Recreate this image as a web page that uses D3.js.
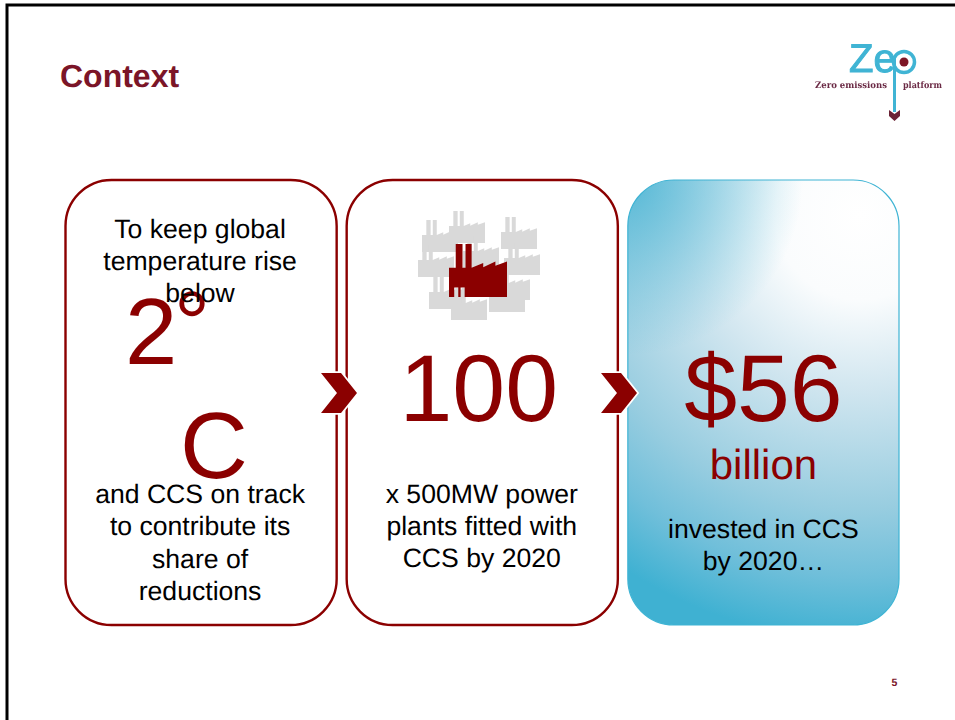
<!DOCTYPE html>
<html lang="en">
	<head>
		<meta charset="utf-8">
		<title>Context</title>
		<script type="text/javascript" src="https://d3js.org/d3.v7.min.js"></script>
		<style type="text/css">
			html, body { margin:0; padding:0; background:#fff; overflow:hidden; }
			svg { display:block; }
			text { font-family:"Liberation Sans", Arial, sans-serif; text-rendering:geometricPrecision; }
		</style>
	</head>
	<body>
		<svg id="slide" width="955" height="720"></svg>
		<script type="text/javascript">
			// values and text
			var cards = ["target", "plants", "money"];
			var topLines = ["To keep global", "temperature rise", "below"];
			var firstLines = ["and CCS on track", "to contribute its", "share of", "reductions"];
			var secondLines = ["x 500MW power", "plants fitted with", "CCS by 2020"];
			var thirdLines = ["invested in CCS", "by 2020…"];
			var plantCount = "100";
			var investment = "$56";
			var investmentUnit = "billion";
			var grayFactories = ["a", "b", "c", "d", "e", "f", "g", "h", "i", "j"];

			var w = 955, h = 720;
			var red = "#8b0000", wine = "#7b1528", teal = "#3fb4d4";

			var svg = d3.select("#slide");
			var defs = svg.append("defs");

			var xCard = d3.scaleBand().domain(cards).range([65.5, 899]).paddingInner(0.0356);
			var cardTop = 180, cardH = 445, cardR = 46;

			// frame, only left and top are in the picture
			svg.append("path")
				.attr("d", "M7,720V5H955")
				.attr("fill", "none")
				.attr("stroke", "#000")
				.attr("stroke-width", 3);

			svg.append("text")
				.text("Context")
				.attr("x", 60)
				.attr("y", 87)
				.attr("font-size", 32)
				.attr("font-weight", "bold")
				.attr("fill", wine);

			svg.append("text")
				.text("5")
				.attr("x", 891.5)
				.attr("y", 686)
				.attr("font-size", 10.5)
				.attr("font-weight", "bold")
				.attr("fill", wine);

			/////////  CARDS  ////////////////////////////////////////////////////////

			var glow = defs.append("radialGradient")
				.attr("id", "glow")
				.attr("gradientUnits", "userSpaceOnUse")
				.attr("cx", 860).attr("cy", 215).attr("r", 425);
			[[0, "#ffffff"], [0.2, "#fafcfd"], [0.42, "#cfe5ef"], [0.69, "#98cde0"], [0.85, "#70bfda"], [1, "#3fb1d2"]]
				.forEach(function(s){
					glow.append("stop").attr("offset", s[0]).attr("stop-color", s[1]);
				});

			var corner = defs.append("radialGradient")
				.attr("id", "corner")
				.attr("gradientUnits", "userSpaceOnUse")
				.attr("cx", 628).attr("cy", 180).attr("r", 175);
			corner.append("stop").attr("offset", 0).attr("stop-color", "#3fb1d2").attr("stop-opacity", 0.8);
			corner.append("stop").attr("offset", 1).attr("stop-color", "#3fb1d2").attr("stop-opacity", 0);

			svg.selectAll("rect.card")
				.data(cards)
				.enter()
				.append("rect")
				.attr("class", "card")
				.attr("x", d => xCard(d))
				.attr("y", cardTop)
				.attr("width", xCard.bandwidth())
				.attr("height", cardH)
				.attr("rx", cardR)
				.attr("fill", d => d == "money" ? "url(#glow)" : "#fff")
				.attr("stroke", d => d == "money" ? teal : red)
				.attr("stroke-width", d => d == "money" ? 1.2 : 2.4);

			svg.append("rect")
				.attr("x", xCard("money"))
				.attr("y", cardTop)
				.attr("width", xCard.bandwidth())
				.attr("height", cardH)
				.attr("rx", cardR)
				.attr("fill", "url(#corner)");

			/////////  FACTORIES  ////////////////////////////////////////////////////////

			var grayPath = "M0,1V.47H.12V0H.24V.47H.3V0H.41V.47L.59,.38V.46L.8,.35V.43L1,.35V1Z";
			var redPath = "M0,1V.45H.116V0H.233V.45H.285V0H.39V.45L.59,.36V.44L.8,.33V.41L1,.33V1H.27V.82H.2V1H.16V.82H.09V1Z";
			var grayPos = {a:[422,220], b:[449,211], c:[501,217], d:[418,245], e:[504,243], f:[429,277], g:[451,288], h:[489,280], i:[494,268], j:[463,236]};

			svg.selectAll("path.gray")
				.data(grayFactories)
				.enter()
				.append("path")
				.attr("class", "gray")
				.attr("d", grayPath)
				.attr("transform", d => "translate(" + grayPos[d][0] + "," + grayPos[d][1] + ") scale(36,32)")
				.attr("fill", "#d9d9d9");

			svg.append("path")
				.attr("d", redPath)
				.attr("transform", "translate(449,244) scale(58,53)")
				.attr("fill", red);

			/////////  TEXT  ////////////////////////////////////////////////////////

			var bigText = function(t, x, y, anchor, size){
				svg.append("text")
					.text(t)
					.attr("x", x)
					.attr("y", y)
					.attr("text-anchor", anchor)
					.attr("font-size", size)
					.attr("fill", red);
			};

			var cardMid = d => xCard(d) + xCard.bandwidth() / 2;

			bigText("2", 125, 364, "start", 94);
			bigText("°", 174, 354, "start", 90);
			bigText("C", 180, 478, "start", 94);
			bigText(plantCount, cardMid("plants") - 3.5, 421, "middle", 95);
			bigText(investment, cardMid("money"), 421, "middle", 95);
			bigText(investmentUnit, cardMid("money"), 479, "middle", 42);

			// the black lines sit on top of the big red figures
			var addLines = function(lines, cx, y0, dy){
				svg.append("g").selectAll("text")
					.data(lines)
					.enter()
					.append("text")
					.text(d => d)
					.attr("x", cx)
					.attr("y", (d, i) => y0 + i * dy)
					.attr("text-anchor", "middle")
					.attr("font-size", 26.6)
					.attr("fill", "#000");
			};

			addLines(topLines, cardMid("target") - 1, 238, 32);
			addLines(firstLines, cardMid("target") - 1, 503, 32.3);
			addLines(secondLines, cardMid("plants") - 0.5, 503, 32);
			addLines(thirdLines, cardMid("money"), 538, 32);

			/////////  CHEVRONS  ////////////////////////////////////////////////////////

			svg.selectAll("path.chevron")
				.data([321, 601])
				.enter()
				.append("path")
				.attr("class", "chevron")
				.attr("d", d => "M" + d + ",373h20l16,20l-16,20h-20l16,-20z")
				.attr("fill", red)
				.attr("stroke", "#fff")
				.attr("stroke-width", 3.5)
				.attr("paint-order", "stroke");

			/////////  LOGO  ////////////////////////////////////////////////////////

			var soft = defs.append("filter").attr("id", "soft");
			soft.append("feGaussianBlur").attr("stdDeviation", 0.35);

			var logo = svg.append("g").attr("filter", "url(#soft)");
			logo.append("text")
				.text("Ze")
				.attr("x", 849)
				.attr("y", 72)
				.attr("font-size", 40)
				.attr("fill", teal)
				.attr("stroke", teal)
				.attr("stroke-width", 1);
			logo.append("circle")
				.attr("cx", 904).attr("cy", 62).attr("r", 10.5)
				.attr("fill", "none")
				.attr("stroke", teal)
				.attr("stroke-width", 3.5);
			logo.append("line")
				.attr("x1", 894.5).attr("x2", 894.5)
				.attr("y1", 58).attr("y2", 112)
				.attr("stroke", teal)
				.attr("stroke-width", 3);
			logo.append("circle")
				.attr("cx", 904).attr("cy", 62).attr("r", 4.5)
				.attr("fill", "#7b1528");
			logo.append("path")
				.attr("d", "M889,110l5.5,4l5.5,-4v6l-5.5,5l-5.5,-5z")
				.attr("fill", "#6b2036");
			logo.selectAll("text.tag")
				.data([["Zero emissions", 815], ["platform", 903]])
				.enter()
				.append("text")
				.attr("class", "tag")
				.text(d => d[0])
				.attr("x", d => d[1])
				.attr("y", 88)
				.attr("font-size", 9)
				.attr("font-weight", "bold")
				.style("font-family", "'DejaVu Serif', serif")
				.attr("textLength", d => d[1] == 815 ? 72 : 39)
				.attr("lengthAdjust", "spacingAndGlyphs")
				.attr("fill", "#6b2a45");
		</script>
	</body>
</html>
